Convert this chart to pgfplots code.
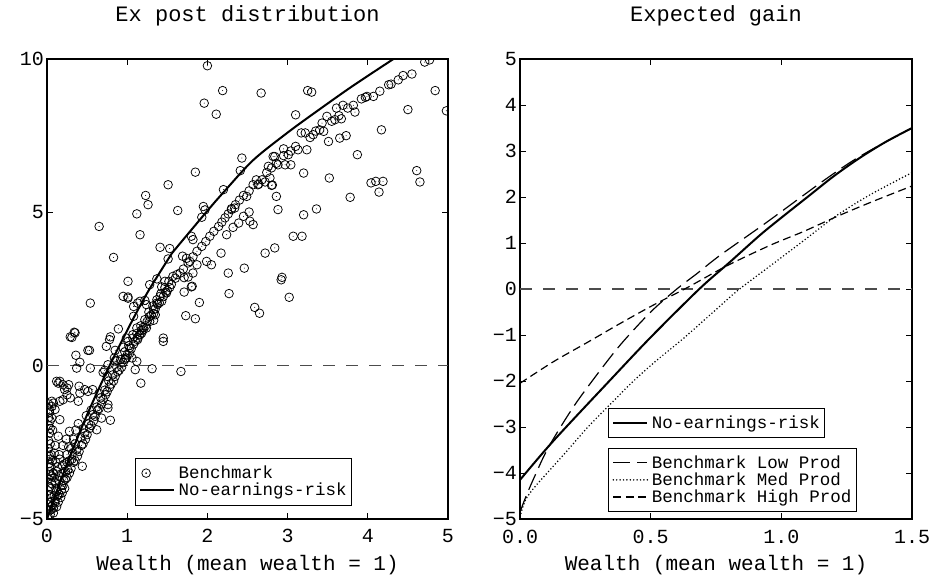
\documentclass[border=0pt]{standalone}
\usepackage{fontspec}
\setmainfont{Liberation Mono}
\usepackage{pgfplots}
\pgfplotsset{compat=1.18}
\usepackage{pgfplotstable}

\pgfdeclareplotmark{odot}{%
  \pgfpathcircle{\pgfpointorigin}{\pgfplotmarksize}\pgfusepathqstroke
  \pgfpathcircle{\pgfpointorigin}{0.5pt}\pgfusepathqfill}

\newcommand\tfont{\fontsize{22}{24}\selectfont}
\newcommand\lfont{\fontsize{21}{24}\selectfont}
\newcommand\kfont{\fontsize{20}{22}\selectfont}
\newcommand\gfont{\fontsize{17.5}{18}\selectfont}

\pgfplotstableread{
x y
0.02 -1.25
0.03 -1.45
0.02 -1.70
0.02 -1.95
0.03 -2.20
0.02 -2.45
0.02 -2.70
0.03 -2.95
0.02 -3.20
0.03 -3.45
0.02 -3.70
0.03 -3.95
0.02 -4.20
0.03 -4.45
0.02 -4.70
0.01 -4.90
0.05 -2.90
0.05 -3.30
0.06 -3.60
0.05 -4.00
0.06 -4.30
0.05 -4.60
0.08 -4.80
0.07 -3.10
0.03 -1.52
0.06 -1.33
0.08 -1.22
0.10 -3.80
0.12 -4.10
0.15 -3.60
0.10 -4.40
0.18 -3.90
0.20 -3.50
0.22 -3.20
0.13 -3.30
0.08 -3.50
0.25 -2.90
0.17 -4.30
0.12 -4.60
0.28 -3.10
0.30 -2.70
0.15 -2.90
0.10 -2.60
0.20 -2.60
0.14 -2.30
0.24 -2.40
0.33 -2.40
0.36 -2.10
0.07 -2.10
0.04 -4.85
0.07 -4.55
0.09 -4.25
0.11 -4.00
0.06 -3.85
0.09 -3.65
0.12 -3.45
0.04 -3.55
0.04 -3.05
0.04 -2.55
0.04 -2.05
0.04 -1.80
0.09 -2.85
0.11 -3.15
0.16 -3.05
0.19 -3.25
0.21 -3.75
0.23 -3.45
0.14 -4.45
0.19 -4.15
0.22 -4.00
0.26 -3.40
0.31 -3.05
0.27 -2.65
0.32 -2.85
0.37 -2.75
0.42 -2.35
0.47 -2.20
0.52 -1.90
0.57 -1.60
0.62 -1.35
0.67 -1.05
0.72 -0.80
0.77 -0.50
0.82 -0.30
0.87 -0.05
0.92 0.20
0.97 0.45
1.02 0.65
1.07 0.90
1.12 1.05
1.17 1.30
1.22 1.50
1.27 1.75
1.32 1.95
1.37 2.15
1.42 2.35
1.47 2.55
1.52 2.75
0.05 -4.70
0.10 -4.45
0.15 -4.20
0.20 -3.90
0.25 -3.65
0.30 -3.35
0.35 -3.10
0.40 -2.80
0.45 -2.55
0.50 -2.25
0.55 -1.95
0.60 -1.65
0.65 -1.40
0.70 -1.10
0.75 -0.85
0.80 -0.60
0.85 -0.35
0.90 -0.15
0.95 0.10
1.00 0.35
1.05 0.55
1.10 0.80
1.15 1.00
1.20 1.25
1.25 1.45
1.30 1.65
1.35 1.85
1.40 2.05
1.45 2.25
1.50 2.45
1.55 2.65
1.60 2.85
0.08 -4.65
0.13 -4.25
0.18 -4.05
0.23 -3.70
0.28 -3.50
0.33 -3.15
0.38 -2.95
0.43 -2.60
0.48 -2.40
0.53 -2.05
0.58 -1.80
0.63 -1.45
0.68 -1.25
0.73 -0.95
0.78 -0.70
0.83 -0.50
0.88 -0.20
0.93 -0.05
0.98 0.25
1.03 0.40
1.08 0.70
1.13 0.85
1.18 1.15
1.23 1.30
1.28 1.60
1.33 1.70
1.38 2.00
1.43 2.10
1.48 2.40
1.53 2.55
0.15 -3.75
0.25 -3.15
0.35 -2.55
0.45 -2.05
0.55 -1.45
0.65 -0.90
0.75 -0.35
0.85 0.15
0.95 0.60
1.66 3.02
1.70 3.15
1.76 3.35
1.82 3.55
1.87 3.73
1.93 3.89
1.98 4.05
2.03 4.22
2.08 4.38
2.14 4.54
2.18 4.68
2.22 4.82
2.26 4.95
2.30 5.09
2.35 5.25
2.40 5.40
2.45 5.55
2.52 5.70
2.57 5.90
2.74 6.30
2.80 6.45
2.86 6.60
2.95 6.85
3.04 7.00
3.10 7.15
3.35 7.65
3.64 8.15
3.75 8.40
4.15 8.95
0.65 4.54
0.83 3.53
1.01 2.75
0.95 2.26
1.01 2.24
1.12 4.95
1.16 4.27
1.23 5.55
1.26 5.25
1.28 2.64
1.37 2.83
1.41 3.86
1.53 3.82
1.51 3.48
1.51 5.90
1.41 2.26
1.43 2.57
1.47 2.75
1.49 2.37
1.57 2.91
1.62 2.97
1.63 5.06
1.69 3.57
1.74 3.50
1.78 3.40
1.71 2.87
1.76 2.89
1.80 2.57
1.82 3.02
1.71 2.40
1.81 2.59
1.90 2.06
1.73 1.63
1.85 1.53
1.85 6.31
1.95 5.19
1.97 5.08
1.93 4.84
1.80 4.22
1.82 4.11
1.99 3.40
2.05 3.29
1.87 3.29
2.17 3.67
2.26 3.02
2.27 2.35
2.46 3.18
2.20 5.74
2.49 5.52
2.30 5.12
2.34 5.14
2.53 4.71
2.57 4.60
2.39 4.65
2.32 4.51
2.24 4.27
2.43 6.77
2.41 6.36
2.00 9.78
2.19 8.97
1.96 8.56
2.11 8.20
2.45 4.87
2.52 5.01
2.59 1.90
2.65 1.71
2.92 2.80
3.02 2.23
2.93 2.88
2.72 3.67
2.84 3.84
2.88 5.09
2.86 5.52
2.63 5.90
2.81 5.89
2.61 6.06
2.68 6.06
2.78 6.12
2.72 5.99
2.64 5.92
2.80 5.88
2.76 6.50
2.82 6.82
2.84 6.82
2.88 6.55
2.97 6.55
3.04 6.55
2.95 7.07
3.01 6.88
3.13 7.04
3.24 7.04
3.17 7.59
3.22 7.59
3.28 7.44
3.10 8.18
3.25 8.97
3.30 8.92
2.67 8.89
3.07 4.22
3.18 4.22
3.20 4.92
3.20 6.28
3.32 7.53
3.40 7.69
3.45 7.64
3.43 7.91
3.49 8.13
3.55 7.97
3.59 8.02
3.67 8.05
3.61 8.40
3.69 8.49
3.82 8.49
3.84 8.27
3.92 8.70
3.97 8.75
3.99 8.78
4.07 8.78
4.26 9.16
4.29 9.18
4.38 9.32
4.44 9.46
4.55 9.51
4.71 9.90
4.77 9.97
4.84 8.97
4.98 8.31
4.50 8.35
4.17 7.69
3.51 7.31
3.65 7.42
3.73 7.50
3.87 6.88
3.52 6.12
4.61 6.36
4.65 5.99
4.04 5.96
4.10 6.01
4.19 6.01
4.14 5.66
3.78 5.49
3.36 5.11
0.54 2.04
0.35 1.07
0.31 0.92
0.29 0.94
0.34 1.09
0.53 0.50
0.51 0.50
0.36 0.34
0.41 0.11
0.54 -0.08
0.37 -0.08
0.16 -0.51
0.12 -0.51
0.14 -0.57
0.20 -0.62
0.22 -0.78
0.25 -0.73
0.27 -0.62
0.25 -0.95
0.29 -1.05
0.20 -1.11
0.16 -1.16
0.06 -1.16
0.10 -1.43
0.16 -1.76
0.06 -1.71
0.40 -0.67
0.39 -1.16
0.47 -0.78
0.51 -0.84
0.41 -0.89
0.57 -0.78
0.28 -2.14
0.39 -1.89
0.49 -1.63
0.70 -0.22
0.72 -0.15
0.76 0.03
0.74 0.63
0.78 0.85
0.79 0.94
0.85 0.50
0.84 0.25
0.87 0.17
0.89 1.20
0.99 0.90
1.03 0.58
0.99 0.25
0.97 0.20
1.06 0.25
1.12 0.14
1.10 -0.13
1.17 -0.57
1.31 -0.10
1.67 -0.19
1.12 1.23
1.16 1.01
1.01 0.79
1.07 1.01
1.13 0.90
1.45 0.79
1.45 0.90
1.01 2.20
1.16 2.10
1.24 1.99
1.08 1.93
1.13 2.04
1.22 2.13
1.37 2.04
1.33 1.83
1.35 1.66
1.33 1.48
1.28 1.44
1.08 1.61
1.24 1.23
1.20 1.17
1.18 1.06
0.62 -2.09
0.68 -1.71
0.76 -1.27
0.76 -1.38
0.79 -1.78
0.44 -3.28
}\scatterdata

\pgfplotstableread{
x y
0.00 -5.00
0.10 -4.25
0.25 -3.20
0.50 -1.60
0.78 0.00
1.00 1.15
1.16 1.95
1.29 2.55
1.53 3.55
1.60 3.80
2.00 5.05
2.20 5.65
2.57 6.70
3.00 7.60
3.34 8.25
3.80 9.10
4.32 10.00
}\noriskL

\pgfplotstableread{
x y
0.000 -4.15
0.128 -3.30
0.350 -1.95
0.500 -1.05
0.686 0.00
0.800 0.57
0.918 1.17
1.000 1.55
1.100 2.00
1.200 2.45
1.300 2.85
1.400 3.20
1.500 3.50
}\noriskR

\pgfplotstableread{
x y
0.000 -4.85
0.020 -4.55
0.050 -4.15
0.108 -3.45
0.200 -2.60
0.280 -1.97
0.383 -1.22
0.500 -0.50
0.600 0.00
0.676 0.33
0.765 0.73
0.944 1.45
1.148 2.30
1.263 2.75
1.352 3.05
1.500 3.50
}\lowprod

\pgfplotstableread{
x y
0.000 -4.95
0.020 -4.60
0.057 -4.30
0.172 -3.57
0.260 -3.00
0.350 -2.48
0.427 -2.04
0.517 -1.58
0.620 -1.10
0.708 -0.66
0.785 -0.27
0.840 0.00
0.957 0.50
1.085 1.05
1.210 1.59
1.340 2.05
1.500 2.53
}\medprod

\pgfplotstableread{
x y
0.000 -2.05
0.128 -1.58
0.255 -1.17
0.383 -0.75
0.510 -0.35
0.640 0.03
0.790 0.50
0.957 0.95
1.085 1.25
1.210 1.57
1.340 1.88
1.500 2.24
}\highprod

\pgfplotsset{
  myax/.style={
    scale only axis, height=460pt,
    axis line style={line width=2.2pt},
    tick align=inside, major tick length=6pt,
    tick style={black, line width=0.9pt},
    every tick label/.append style={font=\kfont},
    yticklabel style={inner sep=3pt},
    xticklabel style={inner sep=3pt},
    title style={font=\tfont, at={(axis description cs:0.5,1)}, anchor=center, yshift=37pt},
    xlabel style={font=\lfont, at={(axis description cs:0.5,0)}, anchor=center, yshift=-46pt},
    clip marker paths=true,
  },
  leg/.style={font=\gfont, draw=black, line width=0.6pt, fill=white,
    inner xsep=3pt, inner ysep=6pt, nodes={inner sep=1.5pt}, row sep=0pt,
    cells={anchor=west}},
  linelegend/.style={legend image code/.code={%
    \draw[##1] (2pt,0pt) -- (36pt,0pt); \path[draw=none] (0pt,0pt) -- (39pt,0pt);}},
  marklegend/.style={legend image code/.code={%
    \draw[black, line width=0.75pt, solid] (8pt,0pt) circle[radius=4.3pt];
    \fill[black] (8pt,0pt) circle[radius=0.5pt];
    \path[draw=none] (0pt,0pt) -- (39pt,0pt);}},
  zeroline/.style={black!70, line width=1.3pt, dash pattern=on 12pt off 11pt, forget plot},
}

\begin{document}
\begin{tikzpicture}
\path[use as bounding box] (0,0) rectangle (931pt,584pt);

% ---- left panel ----
\begin{axis}[myax, at={(47pt,65pt)}, anchor=south west, width=401pt,
  xmin=0, xmax=5, ymin=-5, ymax=10,
  xtick={0,1,2,3,4,5}, xticklabels={0,1,2,3,4,5},
  xticklabel style={yshift=-7pt},
  ytick={-5,0,5,10}, yticklabels={−5,0,5,10},
  title={Ex post distribution},
  xlabel={Wealth (mean wealth = 1)},
  legend style={leg, at={(0.219,0.030)}, anchor=south west},
]
\addplot[zeroline] coordinates {(0,0) (5,0)};
\addplot[only marks, mark=odot, mark size=4.3pt, mark options={line width=0.75pt, black}, marklegend]
  table {\scatterdata};
\addlegendentry{Benchmark}
\addplot[black, line width=2pt, smooth, linelegend] table {\noriskL};
\addlegendentry{No-earnings-risk}
\end{axis}

% ---- right panel ----
\begin{axis}[myax, at={(520pt,65pt)}, anchor=south west, width=392pt,
  xmin=0, xmax=1.5, ymin=-5, ymax=5,
  xtick={0,0.5,1,1.5}, xticklabels={0.0,0.5,1.0,1.5},
  xticklabel style={yshift=-8pt},
  ytick={-5,-4,-3,-2,-1,0,1,2,3,4,5}, yticklabels={−5,−4,−3,−2,−1,0,1,2,3,4,5},
  title={Expected gain},
  xlabel={Wealth (mean wealth = 1)},
  legend style={leg, at={(0.2245,0.1765)}, anchor=south west},
]
\addplot[zeroline] coordinates {(0,0) (1.5,0)};
\addplot[black, line width=2pt, smooth, linelegend] table {\noriskR};
\addlegendentry{No-earnings-risk}
\end{axis}

\begin{axis}[scale only axis, at={(520pt,65pt)}, anchor=south west, width=392pt, height=460pt,
  xmin=0, xmax=1.5, ymin=-5, ymax=5, hide axis,
  legend style={leg, at={(0.2245,0.0153)}, anchor=south west},
]
\addplot[black, line width=1.2pt, smooth, dash pattern=on 17pt off 7pt, linelegend] table {\lowprod};
\addlegendentry{Benchmark Low Prod}
\addplot[black, line width=1.7pt, line cap=round, smooth, dash pattern=on 0pt off 3.4pt, linelegend] table {\medprod};
\addlegendentry{Benchmark Med Prod}
\addplot[black, line width=1.2pt, smooth, dash pattern=on 8pt off 4.5pt, linelegend] table {\highprod};
\addlegendentry{Benchmark High Prod}
\end{axis}
\end{tikzpicture}
\end{document}
